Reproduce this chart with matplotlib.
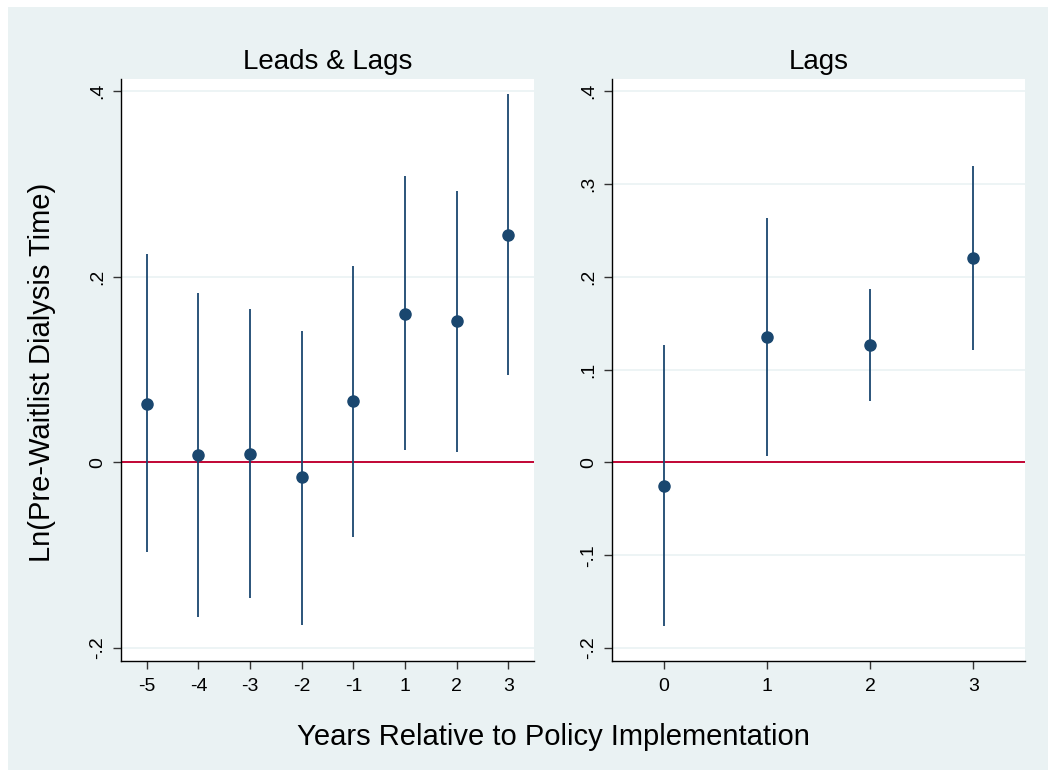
import matplotlib.pyplot as plt
from matplotlib.patches import Rectangle

plt.rcParams["font.family"] = ["Liberation Sans", "DejaVu Sans"]

# Leads & Lags panel
lead_labels = ["-5", "-4", "-3", "-2", "-1", "1", "2", "3"]
lead_coef = [0.063, 0.0075, 0.009, -0.016, 0.066, 0.160, 0.152, 0.245]
lead_hi = [0.224, 0.182, 0.165, 0.142, 0.212, 0.308, 0.292, 0.397]
lead_lo = [-0.097, -0.167, -0.146, -0.175, -0.080, 0.013, 0.011, 0.094]

# Lags panel
lag_labels = ["0", "1", "2", "3"]
lag_coef = [-0.025, 0.135, 0.126, 0.220]
lag_hi = [0.126, 0.263, 0.187, 0.319]
lag_lo = [-0.176, 0.0065, 0.066, 0.121]

left_ticks = [-0.2, 0.0, 0.2, 0.4]
left_ticklabels = ["-.2", "0", ".2", ".4"]
right_ticks = [-0.2, -0.1, 0.0, 0.1, 0.2, 0.3, 0.4]
right_ticklabels = ["-.2", "-.1", "0", ".1", ".2", ".3", ".4"]

BG = "#eaf2f3"
NAVY = "#1a476f"
RED = "#c10534"

W, H = 1048, 770
fig = plt.figure(figsize=(W / 100, H / 100), dpi=100, facecolor="white")
fig.patches.append(Rectangle((8 / W, 0), 1 - 8 / W, 1 - 7 / H,
                             transform=fig.transFigure, facecolor=BG,
                             edgecolor="none", zorder=-10))


def px_axes(x0, x1, y0, y1):
    return fig.add_axes([x0 / W, 1 - y1 / H, (x1 - x0) / W, (y1 - y0) / H])


def draw_panel(ax, labels, coef, lo, hi, ticks, ticklabels, xlim, title):
    xs = list(range(len(labels)))
    ax.set_facecolor("white")
    for t in ticks:
        if t != 0:
            ax.axhline(t, color=BG, lw=1.2, zorder=1)
    ax.axhline(0, color=RED, lw=1.4, zorder=2)
    ax.vlines(xs, lo, hi, color=NAVY, lw=1.3, zorder=3)
    ax.plot(xs, coef, "o", color=NAVY, ms=8, zorder=4)
    ax.set_xlim(*xlim)
    ax.set_ylim(-0.214, 0.413)
    ax.set_xticks(xs)
    ax.set_xticklabels(labels)
    ax.set_yticks(ticks)
    ax.set_yticklabels(ticklabels, rotation=90, va="center")
    ax.tick_params(axis="both", direction="out", length=5.5, width=1,
                   labelsize=14, color="#333333")
    ax.tick_params(axis="x", pad=7)
    ax.tick_params(axis="y", pad=5)
    for side in ("top", "right"):
        ax.spines[side].set_visible(False)
    for side in ("left", "bottom"):
        ax.spines[side].set_linewidth(1.0)
        ax.spines[side].set_color("black")
    ax.set_title(title, fontsize=20, pad=7)


ax1 = px_axes(121, 534, 79, 661)
draw_panel(ax1, lead_labels, lead_coef, lead_lo, lead_hi,
           left_ticks, left_ticklabels, (-0.5, 7.5), "Leads & Lags")

ax2 = px_axes(612, 1025, 79, 661)
draw_panel(ax2, lag_labels, lag_coef, lag_lo, lag_hi,
           right_ticks, right_ticklabels, (-0.5, 3.5), "Lags")

fig.text(553 / W, 1 - 737 / H, "Years Relative to Policy Implementation",
         ha="center", va="center", fontsize=21)
fig.text(42 / W, 1 - 372 / H, "Ln(Pre-Waitlist Dialysis Time)",
         ha="center", va="center", rotation=90, fontsize=21)

fig.savefig("out.png", dpi=100, facecolor="white")
